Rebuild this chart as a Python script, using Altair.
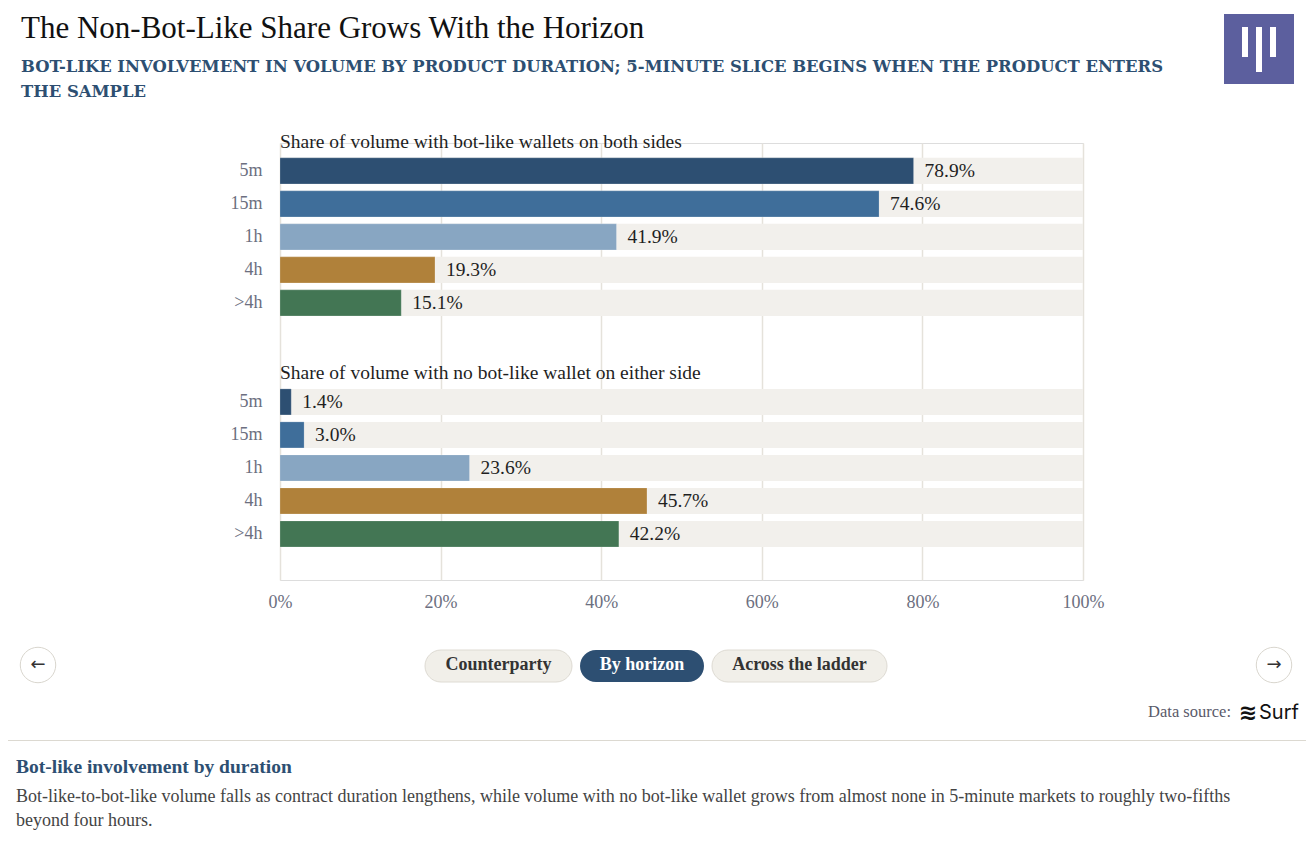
import altair as alt
import pandas as pd

# ---------------- data ----------------
horizons = ["5m", "15m", "1h", "4h", ">4h"]
both_sides = [78.9, 74.6, 41.9, 19.3, 15.1]      # % volume bot-like on both sides
neither_side = [1.4, 3.0, 23.6, 45.7, 42.2]      # % volume with no bot-like wallet
panel_titles = ["Share of volume with bot-like wallets on both sides",
                "Share of volume with no bot-like wallet on either side"]
colors = ["#2d4f72", "#3f6e9a", "#88a6c2", "#b0813a", "#437654"]
x_ticks = [0, 0.2, 0.4, 0.6, 0.8, 1.0]

rows = []
for h, v in zip(horizons, both_sides):
    rows.append({"key": "a|" + h, "horizon": h, "value": v / 100, "label": f"{v:.1f}%"})
for h, v in zip(horizons, neither_side):
    rows.append({"key": "b|" + h, "horizon": h, "value": v / 100, "label": f"{v:.1f}%"})
df = pd.DataFrame(rows)
domain = [r for r in df["key"][:5]] + ["g1|", "g2|"] + [r for r in df["key"][5:]]
heads = pd.DataFrame({"key": ["a|5m", "b|5m"], "title": panel_titles})

SERIF = "Liberation Serif"
X0, Y0 = 280, 143          # page position of the plot origin
W, H = 803, 437

yscale = alt.Scale(domain=domain, paddingInner=0.21, paddingOuter=0.725, align=0.31)
xscale = alt.Scale(domain=[0, 1])

y_enc = alt.Y("key:N", scale=yscale, sort=None,
              axis=alt.Axis(title=None, labelExpr="split(datum.value, '|')[1]",
                            ticks=False, domain=False, labelPadding=18,
                            labelFont=SERIF, labelFontSize=18, labelColor="#6c6f80",
                            grid=False))
x_enc = alt.X("value:Q", scale=xscale,
              axis=alt.Axis(title=None, values=x_ticks, format=".0%", ticks=False,
                            domain=False, labelPadding=13, labelFont=SERIF,
                            labelFontSize=18, labelColor="#6c6f80", labelFlush=False,
                            grid=True, gridColor="#e5e2db", gridWidth=1.5))

bg = alt.Chart(df).mark_bar(color="#f2f0ec").encode(
    y=y_enc, x=alt.datum(1, scale=xscale), x2=alt.datum(0))
bars = alt.Chart(df).mark_bar(stroke="#ffffff", strokeWidth=0.4, strokeOpacity=0.5).encode(
    y=alt.Y("key:N", scale=yscale, sort=None), x=x_enc,
    color=alt.Color("horizon:N", scale=alt.Scale(domain=horizons, range=colors), legend=None))
labels = alt.Chart(df).mark_text(align="left", baseline="middle", dx=11, font=SERIF,
                                 fontSize=19.5, color="#1f1f1f").encode(
    y=alt.Y("key:N", scale=yscale, sort=None), x=alt.X("value:Q", scale=xscale),
    text="label:N")
headers = alt.Chart(heads).mark_text(align="left", baseline="middle", yOffset=-29,
                                     font=SERIF, fontSize=19.5, color="#1f1f1f").encode(
    y=alt.Y("key:N", scale=yscale, sort=None), x=alt.datum(0, scale=xscale),
    text="title:N")

one = alt.Data(values=[{"a": 1}])


def txt(s, x, y, size, color="#111111", font=SERIF, weight="normal", align="left",
        baseline="middle"):
    return alt.Chart(one).mark_text(text=s, align=align, baseline=baseline, font=font,
                                    fontSize=size, fontWeight=weight, color=color).encode(
        x=alt.value(x - X0), y=alt.value(y - Y0))


def rect(x1, y1, x2, y2, fill, stroke=None, radius=0):
    kw = dict(color=fill, cornerRadius=radius)
    if stroke:
        kw.update(stroke=stroke, strokeWidth=1)
    return alt.Chart(one).mark_rect(**kw).encode(
        x=alt.value(x1 - X0), x2=alt.value(x2 - X0),
        y=alt.value(y1 - Y0), y2=alt.value(y2 - Y0))


def circle(cx, cy):
    return alt.Chart(one).mark_point(shape="circle", size=1257, filled=True,
                                     color="#ffffff", stroke="#d9d6ce",
                                     strokeWidth=1, opacity=1).encode(
        x=alt.value(cx - X0), y=alt.value(cy - Y0))


deco = [
    txt("The Non-Bot-Like Share Grows With the Horizon", 21, 29, 31),
    txt("BOT-LIKE INVOLVEMENT IN VOLUME BY PRODUCT DURATION; 5-MINUTE SLICE BEGINS WHEN THE PRODUCT ENTERS",
        21, 67, 16.4, color="#2d4f72", font="DejaVu Serif", weight="bold"),
    txt("THE SAMPLE", 21, 92, 16.4, color="#2d4f72", font="DejaVu Serif", weight="bold"),
    # logo
    rect(1224, 14, 1294, 84, "#5c5f9e"),
    rect(1242, 27, 1248, 57, "#ffffff"),
    rect(1256, 27, 1262, 72, "#ffffff"),
    rect(1270, 27, 1276, 57, "#ffffff"),
    # navigation
    circle(38, 665), txt("←", 38, 665, 18, color="#333333", font="DejaVu Sans", align="center"),
    circle(1274, 665), txt("→", 1274, 665, 18, color="#333333", font="DejaVu Sans", align="center"),
    rect(425, 650, 572, 682, "#f1efe9", stroke="#dedbd3", radius=16),
    rect(580, 650, 704, 682, "#2d4f72", radius=16),
    rect(712, 650, 887, 682, "#f1efe9", stroke="#dedbd3", radius=16),
    txt("Counterparty", 498.5, 665, 18, color="#333333", weight="bold", align="center"),
    txt("By horizon", 642, 665, 18, color="#ffffff", weight="bold", align="center"),
    txt("Across the ladder", 799.5, 665, 18, color="#333333", weight="bold", align="center"),
    # data source
    txt("Data source:", 1231, 712, 16.5, color="#5a5a6a", align="right"),
    txt("≋", 1248, 713, 22, color="#111111", font="DejaVu Sans", weight="bold", align="center"),
    txt("Surf", 1259, 713, 20, color="#111111", font="Inter", align="left"),
    # separator + note
    rect(8, 740, 1306, 741, "#dcd9d1"),
    txt("Bot-like involvement by duration", 16, 767, 19.5, color="#2d4f72", weight="bold"),
    txt("Bot-like-to-bot-like volume falls as contract duration lengthens, while volume with no "
        "bot-like wallet grows from almost none in 5-minute markets to roughly two-fifths",
        16, 797, 18, color="#444444"),
    txt("beyond four hours.", 16, 821, 18, color="#444444"),
]

chart = alt.layer(bg, bars, labels, headers, *deco).properties(
    width=W, height=H,
    autosize=alt.AutoSizeParams(type="none"),
    padding={"left": X0 - 8, "top": Y0 - 8, "right": 1306 - X0 - W, "bottom": 842 - Y0 - H},
).configure_view(stroke=None).configure(background="#ffffff")

chart.save("out.html", embed_options={"renderer": "svg", "actions": False})
